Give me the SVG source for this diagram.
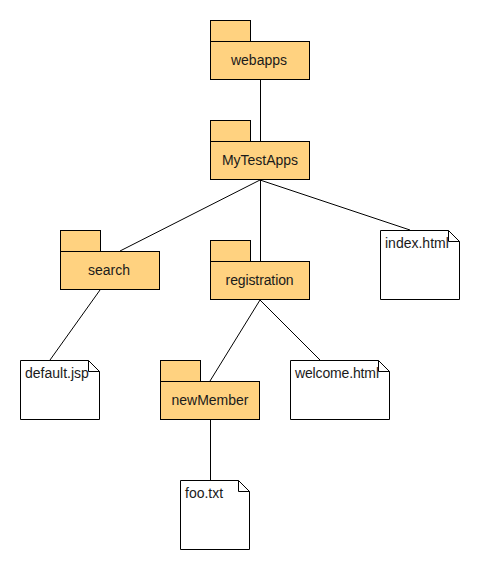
<svg xmlns="http://www.w3.org/2000/svg" width="480" height="570" viewBox="0 0 480 570">
<style>
.pkg{fill:#ffd280;stroke:#000;stroke-width:1}
.note{fill:#fff;stroke:#000;stroke-width:1}
.fold{fill:none;stroke:#000;stroke-width:1}
.edge{stroke:#000;stroke-width:1;fill:none}
text{font-family:"Liberation Sans",Arial,sans-serif;font-size:14px;fill:#1a1a1a}
.c{text-anchor:middle}
</style>
<rect width="480" height="570" fill="#fff"/>
<g id="connectors">
<line class="edge" x1="260.5" y1="80" x2="260.5" y2="141"/>
<line class="edge" x1="260" y1="180" x2="120" y2="251"/>
<line class="edge" x1="260.5" y1="180" x2="260.5" y2="261"/>
<line class="edge" x1="260" y1="180" x2="410" y2="230"/>
<line class="edge" x1="100" y1="290" x2="50" y2="360"/>
<line class="edge" x1="260" y1="300" x2="210" y2="381"/>
<line class="edge" x1="260" y1="300" x2="320" y2="360"/>
<line class="edge" x1="210.5" y1="420" x2="210.5" y2="480"/>
</g>
<g id="webapps"><rect class="pkg" x="210.500" y="20.500" width="40" height="21"/><rect class="pkg" x="210.500" y="41.500" width="99" height="38"/><text class="c" x="259" y="65">webapps</text></g>
<g id="MyTestApps"><rect class="pkg" x="210.500" y="120.500" width="40" height="21"/><rect class="pkg" x="210.500" y="141.500" width="99" height="38"/><text class="c" x="260" y="165">MyTestApps</text></g>
<g id="search"><rect class="pkg" x="60.500" y="230.500" width="40" height="21"/><rect class="pkg" x="60.500" y="251.500" width="99" height="38"/><text class="c" x="109" y="275">search</text></g>
<g id="registration"><rect class="pkg" x="210.500" y="240.500" width="40" height="21"/><rect class="pkg" x="210.500" y="261.500" width="99" height="38"/><text x="225.600" y="285" textLength="68" lengthAdjust="spacing">registration</text></g>
<g id="newMember"><rect class="pkg" x="160.500" y="360.500" width="40" height="21"/><rect class="pkg" x="160.500" y="381.500" width="99" height="38"/><text class="c" x="210" y="405">newMember</text></g>
<g id="index.html"><path class="note" d="M380.500 230.500H448.500L459.500 241.500V299.500H380.500Z"/><path class="fold" d="M448.500 230.500V241.500H459.500"/><text x="385" y="248">index.html</text></g>
<g id="default.jsp"><path class="note" d="M20.500 360.500H88.500L99.500 371.500V419.500H20.500Z"/><path class="fold" d="M88.500 360.500V371.500H99.500"/><text x="25" y="378">default.jsp</text></g>
<g id="welcome.html"><path class="note" d="M290.500 360.500H378.500L389.500 371.500V419.500H290.500Z"/><path class="fold" d="M378.500 360.500V371.500H389.500"/><text x="295" y="378" textLength="84" lengthAdjust="spacing">welcome.html</text></g>
<g id="foo.txt"><path class="note" d="M180.500 480.500H238.500L249.500 491.500V549.500H180.500Z"/><path class="fold" d="M238.500 480.500V491.500H249.500"/><text x="185" y="498">foo.txt</text></g>
</svg>
